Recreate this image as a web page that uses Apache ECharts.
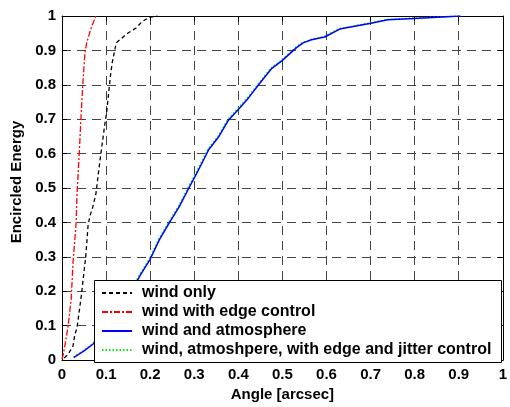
<!DOCTYPE html>
<html>
<head>
<meta charset="utf-8">
<script src="https://cdn.jsdelivr.net/npm/echarts@6/dist/echarts.min.js"></script>
<style>
  html, body { margin: 0; padding: 0; background: #fff; }
  #chart { width: 510px; height: 407px; }
</style>
</head>
<body>
<div id="chart"></div>
<script>
// Encircled energy versus angle for four control configurations.
const seriesNames = [
  'wind only',
  'wind with edge control',
  'wind and atmosphere',
  'wind, atmoshpere, with edge and jitter control'
];

// wind only
const windOnlyX = [0.005, 0.014, 0.018, 0.025, 0.029, 0.034, 0.044, 0.054, 0.059, 0.063, 0.070, 0.077, 0.086, 0.097, 0.101, 0.110, 0.114, 0.123, 0.149, 0.168, 0.182, 0.198, 0.217];
const windOnlyY = [0.006, 0.017, 0.022, 0.041, 0.074, 0.093, 0.189, 0.303, 0.389, 0.417, 0.446, 0.484, 0.579, 0.684, 0.717, 0.827, 0.865, 0.922, 0.950, 0.965, 0.984, 0.996, 1.000];

// wind with edge control
const edgeX = [0.000, 0.003, 0.007, 0.014, 0.021, 0.025, 0.032, 0.034, 0.039, 0.043, 0.047, 0.052, 0.056, 0.067, 0.077];
const edgeY = [0.003, 0.017, 0.046, 0.100, 0.180, 0.284, 0.398, 0.480, 0.598, 0.703, 0.798, 0.893, 0.922, 0.969, 1.000];

// wind and atmosphere
const atmX = [0.027, 0.050, 0.070, 0.100, 0.130, 0.155, 0.179, 0.200, 0.221, 0.243, 0.266, 0.287, 0.307, 0.333, 0.356, 0.378, 0.401, 0.423, 0.446, 0.461, 0.476, 0.498, 0.532, 0.547, 0.566, 0.596, 0.630, 0.701, 0.739, 0.799, 0.904];
const atmY = [0.008, 0.027, 0.046, 0.090, 0.145, 0.195, 0.250, 0.293, 0.350, 0.398, 0.446, 0.498, 0.546, 0.612, 0.650, 0.698, 0.730, 0.762, 0.800, 0.824, 0.848, 0.869, 0.908, 0.922, 0.931, 0.939, 0.962, 0.979, 0.989, 0.993, 1.000];

// wind, atmosphere, with edge and jitter control
const fullX = [0.026, 0.049, 0.069, 0.099, 0.129, 0.154, 0.177, 0.198, 0.219, 0.241, 0.264, 0.285, 0.305, 0.331, 0.354, 0.376, 0.399, 0.421, 0.444, 0.459, 0.474, 0.496, 0.530, 0.545, 0.564, 0.594, 0.628, 0.699, 0.737, 0.797, 0.902];
const fullY = [0.008, 0.027, 0.047, 0.091, 0.146, 0.196, 0.251, 0.294, 0.351, 0.399, 0.447, 0.499, 0.547, 0.613, 0.651, 0.699, 0.731, 0.763, 0.801, 0.825, 0.849, 0.870, 0.909, 0.923, 0.932, 0.940, 0.963, 0.980, 0.990, 0.994, 1.000];

const lineColors = ['#000000', '#ff0000', '#0000ff', '#00ee00'];

const pairs = (xs, ys) => xs.map((x, i) => [x, ys[i]]);

const FONT = '"Liberation Sans", Arial, sans-serif';
const boldText = { color: '#000', fontSize: 15, fontWeight: 'bold', fontFamily: FONT };

const frameAxis = (position) => ({
  type: 'value', min: 0, max: 1, interval: 0.1, position: position,
  axisLine: { show: true, onZero: false, lineStyle: { color: '#000', width: 1 } },
  axisTick: { show: true, inside: true, length: 5, lineStyle: { color: '#000', width: 1 } },
  axisLabel: { show: false },
  splitLine: { show: false }
});

const mainAxis = (position, extra) => Object.assign({
  type: 'value', min: 0, max: 1, interval: 0.1, position: position,
  axisLine: { show: true, onZero: false, lineStyle: { color: '#000', width: 1 } },
  axisTick: { show: true, inside: true, length: 5, lineStyle: { color: '#000', width: 1 } },
  splitLine: { show: true, lineStyle: { type: [9, 6], color: '#444', width: 1 } },
  nameLocation: 'middle'
}, extra);

const chart = echarts.init(document.getElementById('chart'), null, { renderer: 'canvas' });

chart.setOption({
  animation: false,
  backgroundColor: '#fff',
  color: lineColors,
  grid: { left: 62, top: 16, right: 4, bottom: 41 },
  xAxis: [
    mainAxis('bottom', {
      name: 'Angle [arcsec]', nameGap: 26,
      nameTextStyle: boldText,
      axisLabel: Object.assign({ margin: 7 }, boldText)
    }),
    frameAxis('top')
  ],
  yAxis: [
    mainAxis('left', {
      name: 'Encircled Energy', nameGap: 33,
      nameTextStyle: Object.assign({ padding: [0, 0, 0, 12] }, boldText),
      axisLabel: Object.assign({ margin: 6 }, boldText)
    }),
    frameAxis('right')
  ],
  graphic: [{
    type: 'rect', z: 100,
    shape: { x: 94.5, y: 280.5, width: 407, height: 82 },
    style: { fill: '#fff', stroke: '#000', lineWidth: 1 }
  }],
  legend: {
    z: 110,
    orient: 'vertical',
    left: 101, top: 285,
    padding: 0,
    itemWidth: 30, itemHeight: 14, itemGap: 3,
    itemStyle: { opacity: 0 },
    textStyle: Object.assign({ padding: [0, 0, 0, 5], lineHeight: 16 }, boldText, { fontSize: 16 }),
    data: seriesNames
  },
  series: [
    {
      name: seriesNames[0], type: 'line', symbol: 'none', z: 3,
      data: pairs(windOnlyX, windOnlyY),
      itemStyle: { color: lineColors[0] },
      lineStyle: { color: lineColors[0], width: 1.3, type: [4, 3] }
    },
    {
      name: seriesNames[1], type: 'line', symbol: 'none', z: 3,
      data: pairs(edgeX, edgeY),
      itemStyle: { color: lineColors[1] },
      lineStyle: { color: lineColors[1], width: 1.3, type: [6, 2, 2, 2] }
    },
    {
      name: seriesNames[2], type: 'line', symbol: 'none', z: 4,
      data: pairs(atmX, atmY),
      itemStyle: { color: lineColors[2] },
      lineStyle: { color: lineColors[2], width: 1.5, type: 'solid' }
    },
    {
      name: seriesNames[3], type: 'line', symbol: 'none', z: 3,
      data: pairs(fullX, fullY),
      itemStyle: { color: lineColors[3] },
      lineStyle: { color: lineColors[3], width: 1.5, type: [1.5, 2] }
    }
  ]
});
</script>
</body>
</html>
